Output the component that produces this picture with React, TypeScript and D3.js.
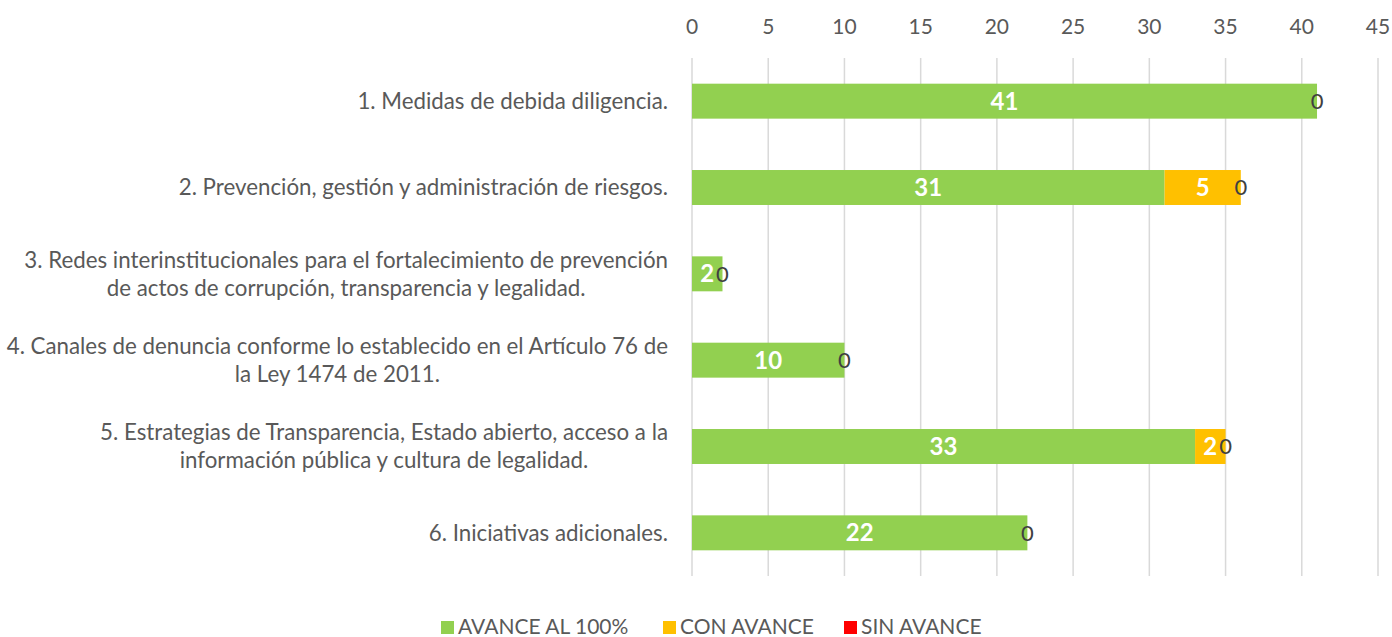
import { useEffect, useRef } from "react";
import * as d3 from "d3";

const categories = [
  "1. Medidas de debida diligencia.",
  "2. Prevención, gestión y administración de riesgos.",
  "3. Redes interinstitucionales para el fortalecimiento de prevención\nde actos de corrupción, transparencia y legalidad.",
  "4. Canales de denuncia conforme lo establecido en el Artículo 76 de\nla Ley 1474 de 2011.",
  "5. Estrategias de Transparencia, Estado abierto, acceso a la\ninformación pública y cultura de legalidad.",
  "6. Iniciativas adicionales.",
];
const avance100 = [41, 31, 2, 10, 33, 22];
const conAvance = [0, 5, 0, 0, 2, 0];
const sinAvance = [0, 0, 0, 0, 0, 0];
const seriesNames = ["AVANCE AL 100%", "CON AVANCE", "SIN AVANCE"];
const seriesColors = ["#92D050", "#FFC000", "#FF0000"];
const xTicks = [0, 5, 10, 15, 20, 25, 30, 35, 40, 45];

const FONT = "Lato, 'Open Sans', sans-serif";

export default function App() {
  const ref = useRef<SVGSVGElement | null>(null);

  useEffect(() => {
    if (!ref.current) return;
    const svg = d3.select(ref.current);
    svg.selectAll("*").remove();

    const width = 1392,
      height = 637;
    const margin = { top: 58, bottom: 61, left: 692, right: 14 };

    const x = d3
      .scaleLinear()
      .domain([0, 45])
      .range([margin.left, width - margin.right]);
    const y = d3
      .scaleBand()
      .domain(categories.map((_, i) => String(i)))
      .range([margin.top, height - margin.bottom])
      .paddingInner(0.595)
      .paddingOuter(0.2975);

    // grid
    svg
      .append("g")
      .selectAll("line")
      .data(xTicks)
      .enter()
      .append("line")
      .attr("x1", (d) => x(d))
      .attr("x2", (d) => x(d))
      .attr("y1", margin.top)
      .attr("y2", height - margin.bottom)
      .attr("stroke", "#D9D9D9")
      .attr("stroke-width", 1.5);

    // top axis labels
    svg
      .append("g")
      .selectAll("text")
      .data(xTicks)
      .enter()
      .append("text")
      .attr("x", (d) => x(d))
      .attr("y", 27)
      .attr("dy", "0.35em")
      .attr("text-anchor", "middle")
      .attr("fill", "#595959")
      .style("font-family", FONT)
      .style("font-size", "21px")
      .text((d) => d);

    // stacked data
    const rows = categories.map((c, i) => ({
      key: String(i),
      a: avance100[i],
      b: conAvance[i],
      c: sinAvance[i],
    }));
    const stack = d3.stack<any>().keys(["a", "b", "c"])(rows);

    stack.forEach((layer, li) => {
      svg
        .append("g")
        .selectAll("rect")
        .data(layer)
        .enter()
        .append("rect")
        .attr("x", (d) => x(d[0]))
        .attr("y", (d) => y(d.data.key)!)
        .attr("width", (d) => x(d[1]) - x(d[0]))
        .attr("height", y.bandwidth())
        .attr("fill", seriesColors[li]);
    });

    // labels
    stack.forEach((layer, li) => {
      svg
        .append("g")
        .selectAll("text")
        .data(layer.filter((d) => li === 2 || d[1] - d[0] > 0))
        .enter()
        .append("text")
        .attr("x", (d) => x((d[0] + d[1]) / 2))
        .attr("y", (d) => y(d.data.key)! + y.bandwidth() / 2)
        .attr("dy", "0.36em")
        .attr("text-anchor", "middle")
        .attr("fill", li === 2 ? "#404040" : "#FFFFFF")
        .style("font-family", FONT)
        .style("font-size", li === 2 ? "22px" : "24px")
        .style("font-weight", li === 2 ? "normal" : "bold")
        .text((d) => d[1] - d[0]);
    });

    // category labels
    const labelRight = 668;
    const lineH = 28;
    categories.forEach((c, i) => {
      const lines = c.split("\n");
      const cy = y(String(i))! + y.bandwidth() / 2;
      const g = svg.append("g");
      const texts = lines.map((ln, li) =>
        g
          .append("text")
          .attr("y", cy + (li - (lines.length - 1) / 2) * lineH)
          .attr("dy", "0.35em")
          .attr("fill", "#595959")
          .style("font-family", FONT)
          .style("font-size", "22.3px")
          .text(ln)
      );
      const widths = texts.map((t) => (t.node() as SVGTextElement).getComputedTextLength());
      const maxW = d3.max(widths)!;
      texts.forEach((t) => {
        t.attr("x", labelRight - maxW / 2).attr("text-anchor", "middle");
      });
    });

    // legend
    const legendX = [441, 663, 844];
    const legend = svg.append("g");
    seriesNames.forEach((s, i) => {
      legend
        .append("rect")
        .attr("x", legendX[i])
        .attr("y", 621)
        .attr("width", 13)
        .attr("height", 13)
        .attr("fill", seriesColors[i]);
      legend
        .append("text")
        .attr("x", legendX[i] + 17)
        .attr("y", 627)
        .attr("dy", "0.35em")
        .attr("fill", "#595959")
        .style("font-family", FONT)
        .style("font-size", "21px")
        .text(s);
    });
  }, []);

  return (
    <svg
      ref={ref}
      width={1392}
      height={637}
      style={{ position: "absolute", left: 0, top: 0, background: "#fff" }}
    />
  );
}
